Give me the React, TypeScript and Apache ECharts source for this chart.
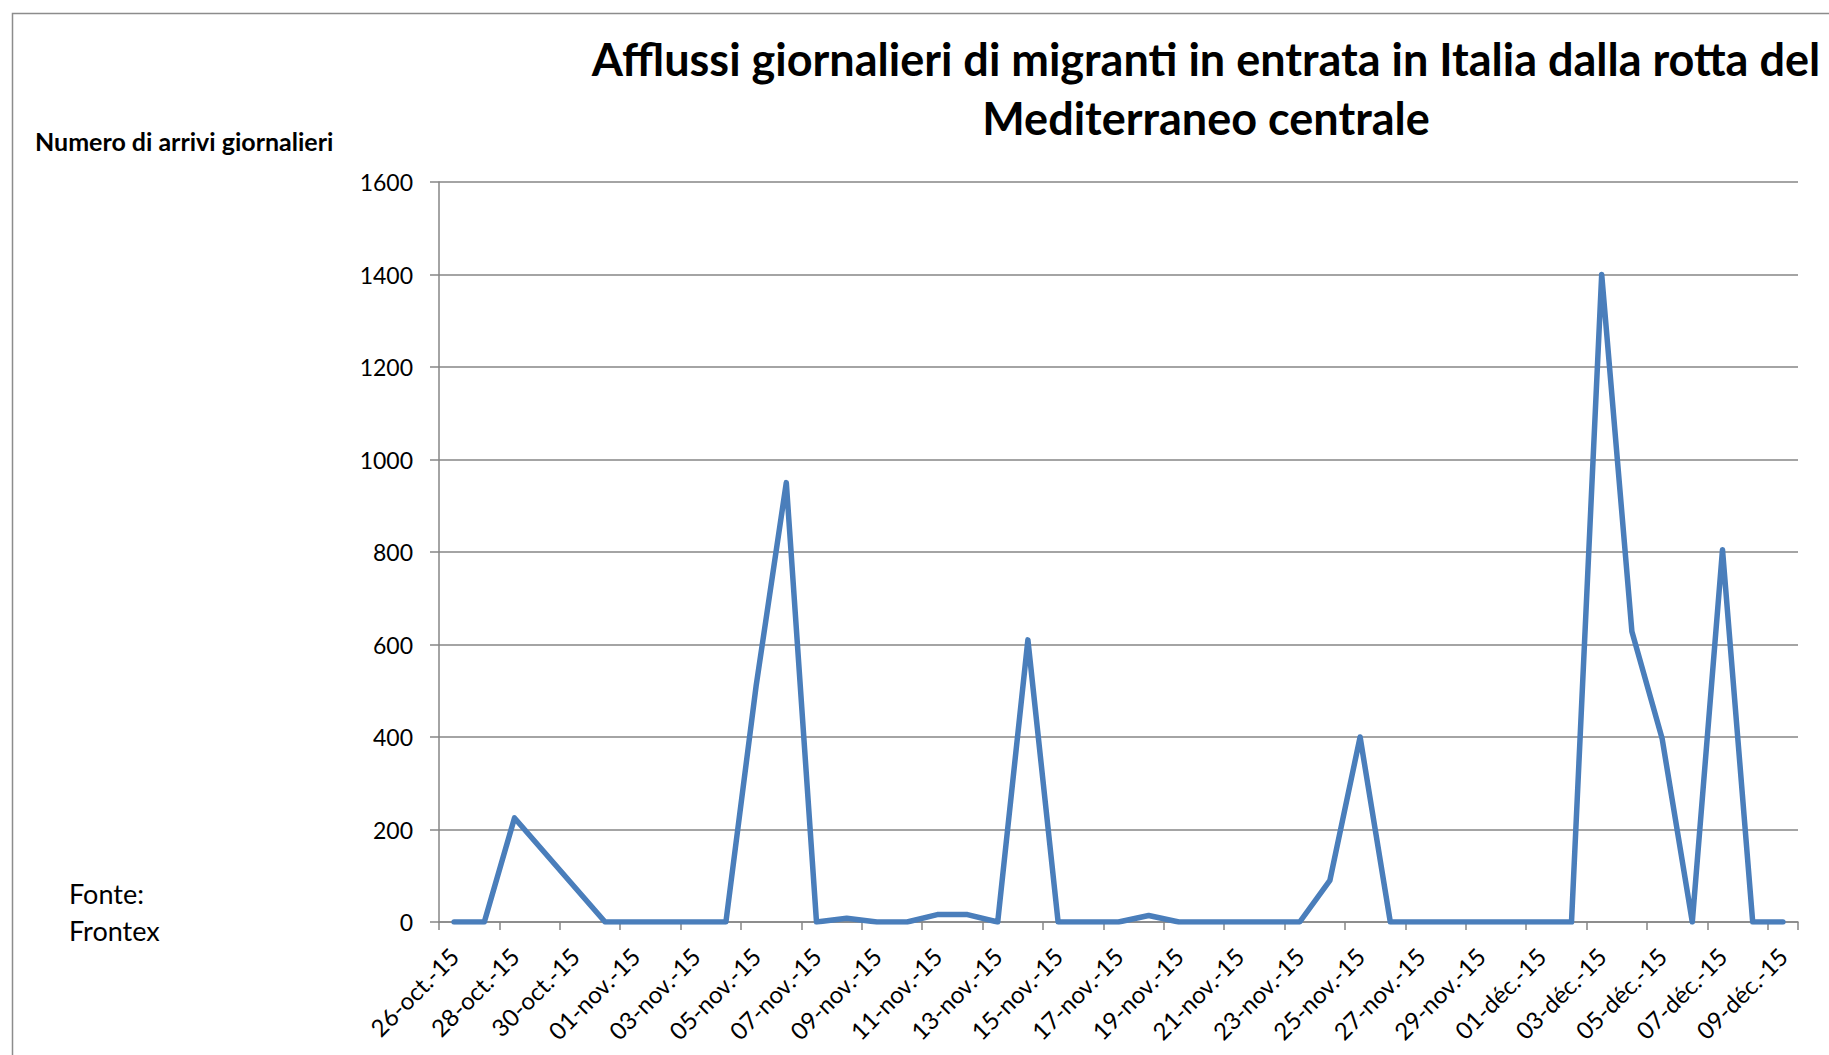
import React, { useEffect, useRef } from "react";
import * as echarts from "echarts";

const titleText = "Afflussi giornalieri di migranti in entrata in Italia dalla rotta del\nMediterraneo centrale";
const yAxisTitle = "Numero di arrivi giornalieri";
const sourceLines = ["Fonte:", "Frontex"];

const categories = [
  "26-oct.-15", "27-oct.-15", "28-oct.-15", "29-oct.-15", "30-oct.-15", "31-oct.-15",
  "01-nov.-15", "02-nov.-15", "03-nov.-15", "04-nov.-15", "05-nov.-15", "06-nov.-15",
  "07-nov.-15", "08-nov.-15", "09-nov.-15", "10-nov.-15", "11-nov.-15", "12-nov.-15",
  "13-nov.-15", "14-nov.-15", "15-nov.-15", "16-nov.-15", "17-nov.-15", "18-nov.-15",
  "19-nov.-15", "20-nov.-15", "21-nov.-15", "22-nov.-15", "23-nov.-15", "24-nov.-15",
  "25-nov.-15", "26-nov.-15", "27-nov.-15", "28-nov.-15", "29-nov.-15", "30-nov.-15",
  "01-déc.-15", "02-déc.-15", "03-déc.-15", "04-déc.-15", "05-déc.-15", "06-déc.-15",
  "07-déc.-15", "08-déc.-15", "09-déc.-15",
];

// daily arrivals (null = no data, line connected across)
const arrivals: (number | null)[] = [
  0, 0, 225, null, null, 0,
  0, 0, 0, 0, 510, 950,
  0, 8, 0, 0, 16, 16,
  0, 610, 0, 0, 0, 14,
  0, 0, 0, 0, 0, 90,
  400, 0, 0, 0, 0, 0,
  0, 0, 1400, 628, 397, 0,
  805, 0, 0,
];

const yMin = 0;
const yMax = 1600;
const yStep = 200;

export default function App() {
  const ref = useRef<HTMLDivElement>(null);

  useEffect(() => {
    if (!ref.current) return;
    const chart = echarts.init(ref.current, undefined, { renderer: "svg" });
    const gray = "#868686";
    chart.setOption({
      animation: false,
      backgroundColor: "#ffffff",
      title: {
        text: titleText,
        left: 1201,
        top: 24,
        textAlign: "center",
        textStyle: {
          fontFamily: "Lato",
          fontWeight: "bold",
          fontSize: 45,
          lineHeight: 59,
          color: "#000000",
        },
      },
      grid: {
        left: 439,
        top: 182,
        right: 31,
        bottom: 133,
        containLabel: false,
      },
      xAxis: {
        type: "category",
        data: categories,
        boundaryGap: true,
        axisLine: { show: true, lineStyle: { color: gray, width: 1.5 } },
        axisTick: {
          show: true,
          interval: 1,
          alignWithLabel: false,
          length: 8,
          lineStyle: { color: gray, width: 1.5 },
        },
        axisLabel: {
          interval: 1,
          rotate: 45,
          margin: 30,
          fontFamily: "Lato",
          fontSize: 24,
          color: "#000000",
        },
        splitLine: { show: false },
      },
      yAxis: {
        type: "value",
        min: yMin,
        max: yMax,
        interval: yStep,
        axisLine: { show: true, lineStyle: { color: gray, width: 1.5 } },
        axisTick: { show: true, length: 9, lineStyle: { color: gray, width: 1.5 } },
        axisLabel: {
          margin: 26,
          fontFamily: "Lato",
          fontSize: 23,
          color: "#000000",
          formatter: (v: number) => String(v),
        },
        splitLine: { show: true, lineStyle: { color: gray, width: 1.5 } },
      },
      series: [
        {
          type: "line",
          data: arrivals,
          connectNulls: true,
          showSymbol: false,
          symbol: "none",
          lineStyle: { color: "#4A7EBB", width: 5.5, cap: "round", join: "round" },
          itemStyle: { color: "#4A7EBB" },
        },
      ],
      graphic: [
        {
          type: "rect",
          left: 10,
          top: 11,
          shape: { x: 0, y: 0, width: 2000, height: 1200 },
          style: { fill: "none", stroke: "#8c8c8c", lineWidth: 1.5 },
          silent: true,
          z: -1,
        },
        {
          type: "text",
          x: 35,
          y: 141,
          style: {
            text: yAxisTitle,
            font: "bold 25px Lato",
            fill: "#000000",
            verticalAlign: "middle",
          },
        },
        {
          type: "text",
          x: 69,
          y: 893,
          style: {
            text: sourceLines[0],
            font: "27px Lato",
            fill: "#000000",
            verticalAlign: "middle",
          },
        },
        {
          type: "text",
          x: 69,
          y: 930,
          style: {
            text: sourceLines[1],
            font: "27px Lato",
            fill: "#000000",
            verticalAlign: "middle",
          },
        },
      ],
    });
    return () => chart.dispose();
  }, []);

  return (
    <div
      ref={ref}
      style={{ position: "absolute", left: 0, top: 0, width: 1829, height: 1055, background: "#fff" }}
    />
  );
}
